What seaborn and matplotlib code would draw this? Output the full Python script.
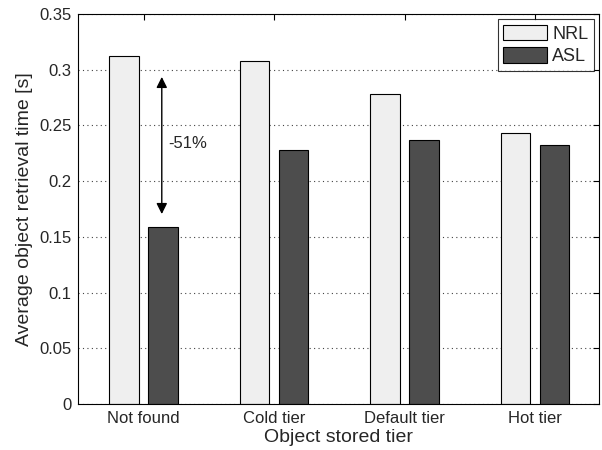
import pandas as pd
import matplotlib
matplotlib.use("Agg")
import matplotlib.pyplot as plt
import seaborn as sns

tiers = ["Not found", "Cold tier", "Default tier", "Hot tier"]
nrl_times = [0.312, 0.308, 0.278, 0.243]
asl_times = [0.159, 0.228, 0.237, 0.232]
series = ["NRL", "ASL"]

# annotation for the "not found" case
arrow_x = 0.14
arrow_top = 0.296
arrow_bottom = 0.168
arrow_label = "-51%"

df = pd.DataFrame({
    "tier": tiers * 2,
    "time": nrl_times + asl_times,
    "series": ["NRL"] * len(tiers) + ["ASL"] * len(tiers),
})

sns.set_style("white")
plt.rcParams["font.family"] = ["Liberation Sans", "DejaVu Sans"]

fig, ax = plt.subplots(figsize=(6.02, 4.5), dpi=100)
sns.barplot(data=df, x="tier", y="time", hue="series", hue_order=series,
            palette={"NRL": "#efefef", "ASL": "#4d4d4d"},
            width=0.6, gap=0.25, edgecolor="black", linewidth=0.8,
            ax=ax)

ax.set_ylim(0, 0.35)
ax.set_xlim(-0.5, 3.49)
ax.set_yticks([0, 0.05, 0.1, 0.15, 0.2, 0.25, 0.3, 0.35])
ax.set_yticklabels(["0", "0.05", "0.1", "0.15", "0.2", "0.25", "0.3", "0.35"])
ax.yaxis.grid(True, linestyle=(0, (1, 3)), color="#444444", linewidth=0.8)
ax.set_axisbelow(True)
ax.tick_params(axis="both", direction="in", top=True, right=True,
               labelsize=12, length=4, color="black", pad=5)
for s in ax.spines.values():
    s.set_color("black")
    s.set_linewidth(0.8)

ax.set_xlabel("Object stored tier", fontsize=14, labelpad=2)
ax.set_ylabel("Average object retrieval time [s]", fontsize=14, labelpad=4)

ax.annotate("", xy=(arrow_x, arrow_top), xytext=(arrow_x, arrow_bottom),
            arrowprops=dict(arrowstyle="<|-|>", color="black", lw=1,
                            mutation_scale=16))
ax.text(arrow_x + 0.05, (arrow_top + arrow_bottom) / 2 + 0.002, arrow_label,
        fontsize=12, va="center", ha="left")

leg = ax.legend(loc="upper right", fontsize=13, frameon=True, fancybox=False,
                edgecolor="black", handlelength=2.4, handleheight=0.95,
                borderaxespad=0.3, borderpad=0.3, labelspacing=0.25,
                handletextpad=0.3)
leg.get_frame().set_linewidth(0.8)

fig.subplots_adjust(left=0.13, right=0.995, top=0.969, bottom=0.102)
fig.savefig("out.png", dpi=100)
